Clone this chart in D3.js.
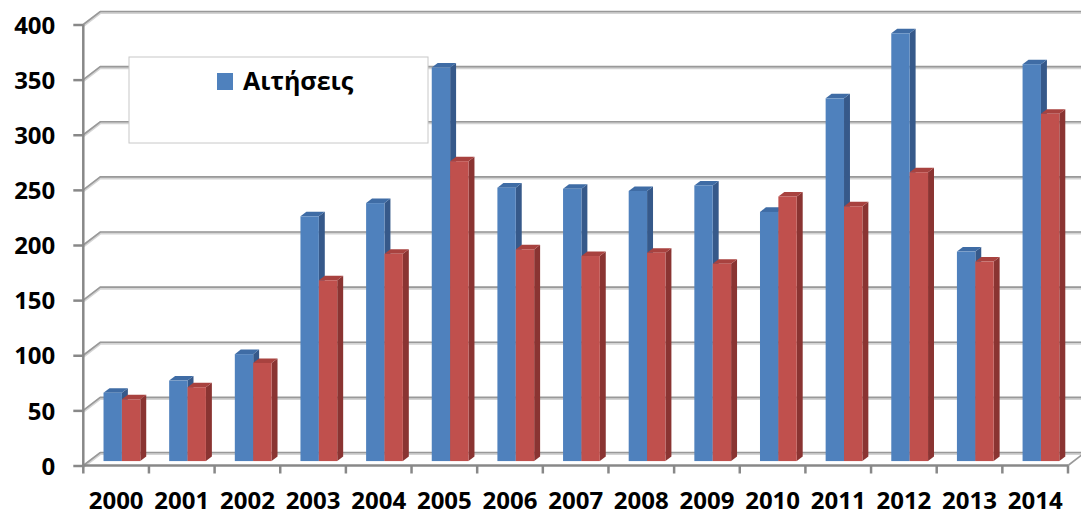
<!DOCTYPE html>
<html>
<head>
<meta charset="utf-8">
<script src="https://cdn.jsdelivr.net/npm/d3@7"></script>
<style>
  body { margin: 0; background: #fff; }
  text { font-family: "Open Sans", "Noto Sans", sans-serif; font-weight: 700; fill: #000; }
</style>
</head>
<body>
<div id="chart"></div>
<script>
// data
const years = ['2000','2001','2002','2003','2004','2005','2006','2007','2008','2009','2010','2011','2012','2013','2014'];
const aitiseis = [62, 73, 97, 222, 234, 357, 248, 247, 245, 250, 226, 329, 388, 190, 360];
const series2 = [56, 67, 89, 164, 188, 272, 192, 186, 189, 179, 240, 231, 262, 181, 315];
const yTicks = [0, 50, 100, 150, 200, 250, 300, 350, 400];
const legendLabel = 'Αιτήσεις';

const WIDTH = 1081, HEIGHT = 515;
const DEPTH = {dx: 17, dy: -13};      // depth of the back wall
const BAR_Z = 0.34, BAR_D = 0.35;    // bar front plane and bar depth (fraction of DEPTH)

const svg = d3.select('#chart').append('svg')
  .attr('width', WIDTH).attr('height', HEIGHT);

const x = d3.scaleBand().domain(years).range([83.3, 1068]).padding(0);
const y = d3.scaleLinear().domain([0, 400]).range([465.5, 24.5]);

// back wall + side wall gridlines
const grid = svg.append('g');
yTicks.forEach(t => {
  const yf = y(t), yb = y(t) + DEPTH.dy;
  const pts = [[83.3, yf], [83.3 + DEPTH.dx, yb], [WIDTH + 5, yb]];
  grid.append('path').attr('d', d3.line()(pts.map(p => [p[0], p[1] + 1])))
    .attr('fill', 'none').attr('stroke', '#d4d4d4').attr('stroke-width', 3);
  grid.append('path').attr('d', d3.line()(pts))
    .attr('fill', 'none').attr('stroke', '#999').attr('stroke-width', 1.6);
});
// floor right edge
grid.append('path')
  .attr('d', d3.line()([[1068, y(0)], [1068 + DEPTH.dx, y(0) + DEPTH.dy]]))
  .attr('fill', 'none').attr('stroke', '#999').attr('stroke-width', 1.6);

// bars
const w = x.bandwidth() * 0.28;
const sx = DEPTH.dx * BAR_Z, sy = DEPTH.dy * BAR_Z;
const ddx = DEPTH.dx * BAR_D, ddy = DEPTH.dy * BAR_D;
const inner = d3.scaleBand().domain(['a', 'b']).range([0, 2 * w]);

const colors = {
  a: {front: '#4f81bd', side: '#36598a', top: '#3f6ca5'},
  b: {front: '#c0504d', side: '#8a3432', top: '#a8423f'}
};

const bars = svg.append('g');
years.forEach((yr, i) => {
  [['a', aitiseis[i]], ['b', series2[i]]].forEach(([k, v]) => {
    const x0 = x(yr) + x.bandwidth() / 2 - w + inner(k) + sx;
    const x1 = x0 + w;
    const yt = y(v) + sy, yb = y(0) + sy;
    const c = colors[k];
    bars.append('path')
      .attr('d', d3.line()([[x1, yt], [x1 + ddx, yt + ddy], [x1 + ddx, yb + ddy], [x1, yb]]) + 'Z')
      .attr('fill', c.side);
    bars.append('path')
      .attr('d', d3.line()([[x0, yt], [x0 + ddx, yt + ddy], [x1 + ddx, yt + ddy], [x1, yt]]) + 'Z')
      .attr('fill', c.top);
    bars.append('rect')
      .attr('x', x0).attr('y', yt).attr('width', w).attr('height', yb - yt)
      .attr('fill', c.front);
  });
});

// axes
const yAxis = svg.append('g').attr('transform', 'translate(83.3,0)')
  .call(d3.axisLeft(y).tickValues(yTicks).tickSize(10).tickPadding(18));
yAxis.select('.domain').attr('d', 'M0,' + y(400) + 'V' + y(0));
yAxis.selectAll('line, path').attr('stroke', '#888').attr('stroke-width', 2.5);
yAxis.selectAll('text').attr('font-size', 24).attr('dy', '0.36em')
  .attr('font-family', '"Open Sans", sans-serif').attr('font-weight', 700).attr('fill', '#000');

const xAxis = svg.append('g').attr('transform', 'translate(0,' + y(0) + ')')
  .call(d3.axisBottom(x).tickSize(0).tickPadding(26));
xAxis.select('.domain').attr('d', 'M83.3,0H1068');
xAxis.selectAll('line, path').attr('stroke', '#888').attr('stroke-width', 2.5);
xAxis.selectAll('text').attr('font-size', 24)
  .attr('font-family', '"Open Sans", sans-serif').attr('font-weight', 700).attr('fill', '#000');
// category boundary ticks
xAxis.selectAll('.bound').data(x.domain().concat(['end'])).enter().append('line')
  .attr('x1', (d, i) => i < years.length ? x(d) : x.range()[1])
  .attr('x2', (d, i) => i < years.length ? x(d) : x.range()[1])
  .attr('y1', 0).attr('y2', 8)
  .attr('stroke', '#888').attr('stroke-width', 2.5);

// legend
const lg = svg.append('g');
lg.append('rect').attr('x', 129).attr('y', 57).attr('width', 299).attr('height', 86)
  .attr('fill', '#fff').attr('stroke', '#c8c8c8').attr('stroke-width', 1);
lg.append('rect').attr('x', 217).attr('y', 73).attr('width', 16).attr('height', 17)
  .attr('fill', colors.a.front);
lg.append('text').attr('x', 243).attr('y', 90).attr('font-size', 25).text(legendLabel);
</script>
</body>
</html>
